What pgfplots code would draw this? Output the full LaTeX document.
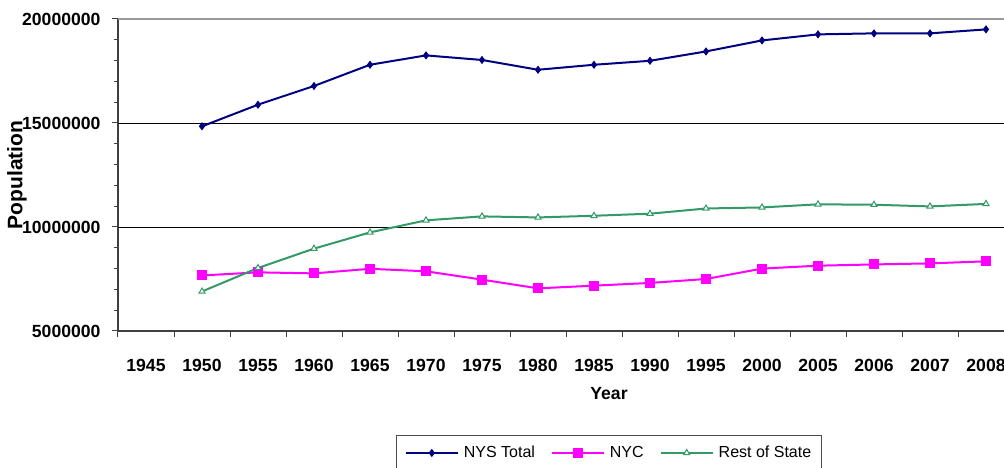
\documentclass[border=0pt]{standalone}
\usepackage{pgfplots}
\pgfplotsset{compat=1.18}
\usepackage{fontspec}
\setmainfont{Liberation Sans}
\definecolor{nys}{HTML}{000080}
\definecolor{nyc}{HTML}{FF00FF}
\definecolor{rest}{HTML}{339966}
\begin{document}
\begin{tikzpicture}[x=1pt,y=1pt]
\path[use as bounding box] (0,0) rectangle (1004,468);
\clip (0,0) rectangle (1004,468);
\begin{axis}[
  scale only axis,
  width=896pt, height=312pt,
  at={(118pt,137pt)}, anchor=south west,
  xmin=-0.5, xmax=15.5,
  ymin=5000000, ymax=20000000,
  axis x line*=bottom, axis y line*=left,
  axis line style={-, draw=black!75, line width=1.5pt},
  xtick={-0.5,0.5,...,15.5},
  x tick label as interval,
  xticklabels={1945,1950,1955,1960,1965,1970,1975,1980,1985,1990,1995,2000,2005,2006,2007,2008},
  ytick={5000000,10000000,15000000,20000000},
  minor y tick num=4,
  tick align=outside,
  major tick length=6pt, minor tick length=4pt,
  every tick/.style={draw=black!75, line width=1pt},
  scaled y ticks=false,
  /pgf/number format/assume math mode=true,
  yticklabel={\pgfmathprintnumber[fixed,1000 sep={}]{\tick}},
  ticklabel style={font=\fontsize{17.6}{20}\selectfont\bfseries},
  yticklabel style={xshift=-8pt},
  xticklabel style={yshift=-19pt},
  extra y ticks={10000000,15000000},
  extra y tick labels={},
  extra y tick style={grid=major, major grid style={draw=black, line width=0.8pt}, major tick length=0pt},
  xlabel={Year}, ylabel={Population},
  xlabel style={font=\fontsize{17.6}{20}\selectfont\bfseries, at={(axis description cs:0.548,-0.2)}, anchor=center},
  ylabel style={font=\fontsize{21}{24}\selectfont\bfseries, at={(axis description cs:-0.1127,0.50)}, anchor=center},
  clip=false,
  legend columns=3,
  legend style={at={(axis description cs:0.548,-0.333)}, anchor=north,
    draw=black!70, line width=1pt, font=\fontsize{16}{19}\selectfont,
    inner xsep=8pt, inner ysep=9pt,
    /tikz/every even column/.style={column sep=14pt}},
  legend image code/.code={\draw[#1, mark repeat=2, mark phase=2] plot coordinates {(0pt,0pt) (26pt,0pt) (52pt,0pt)}; \path (55pt,0pt);},
]
\draw[gray!80, line width=2pt] (axis cs:-0.5,20000000) -- (axis cs:15.5,20000000);
\addplot[nys, line width=2pt, mark=diamond*, mark size=3.5pt, mark options={line width=0.8pt}] coordinates {
(1,14840000) (2,15880000) (3,16780000) (4,17800000) (5,18250000) (6,18030000) (7,17560000) (8,17800000)
(9,17990000) (10,18440000) (11,18970000) (12,19260000) (13,19310000) (14,19310000) (15,19500000)};
\addlegendentry{NYS Total}
\addplot[nyc, line width=2pt, mark=square*, mark size=4pt] coordinates {
(1,7670000) (2,7820000) (3,7770000) (4,7990000) (5,7870000) (6,7470000) (7,7050000) (8,7180000)
(9,7310000) (10,7500000) (11,8000000) (12,8140000) (13,8200000) (14,8250000) (15,8350000)};
\addlegendentry{NYC}
\addplot[rest, line width=2pt, mark=triangle*, mark size=3.5pt, mark options={fill=white, line width=1pt}] coordinates {
(1,6900000) (2,8030000) (3,8960000) (4,9740000) (5,10320000) (6,10510000) (7,10460000) (8,10540000)
(9,10640000) (10,10890000) (11,10940000) (12,11090000) (13,11070000) (14,10990000) (15,11110000)};
\addlegendentry{Rest of State}
\end{axis}
\end{tikzpicture}
\end{document}
